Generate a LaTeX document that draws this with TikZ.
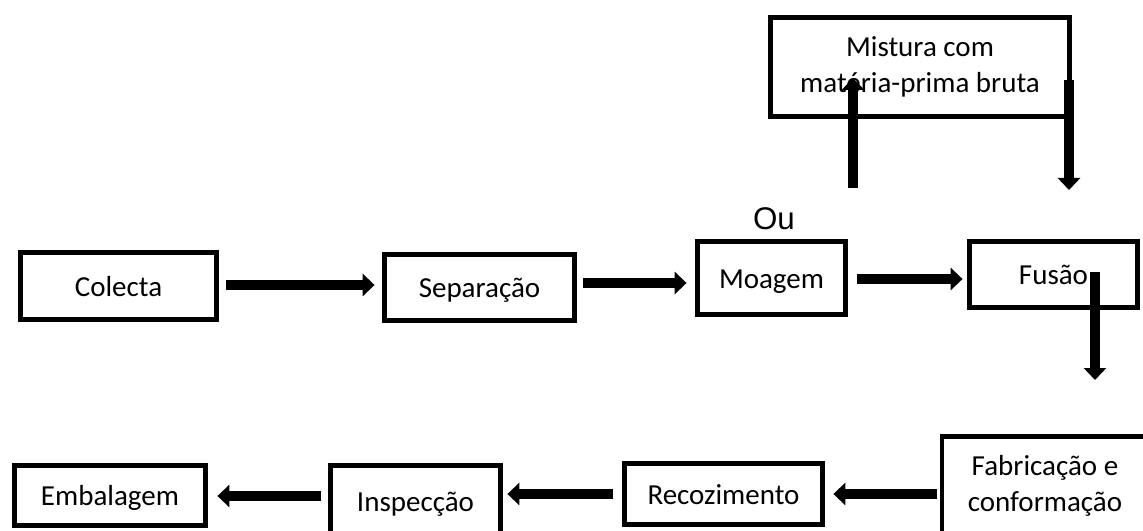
\documentclass[tikz,border=0pt]{standalone}
\usepackage{fontspec}
\setmainfont{Carlito}
\newfontfamily\arialfont{Liberation Sans}
\usetikzlibrary{arrows.meta,calc}
\newcommand\pxu{0.75pt}
\begin{document}
\begin{tikzpicture}[x=0.75pt,y=-0.75pt,
  box/.style={draw, line width=3.6pt, align=center, inner sep=0pt,
    font=\fontsize{21.75}{27}\selectfont},
  onebox/.style={box, text height=18.5pt, text depth=2.85pt},
  arr/.style={line width=7pt, -{Triangle[length=9pt,width=16.5pt]}}]
\useasboundingbox (0,0) rectangle (1143,531);
% top row
\node[onebox, minimum width=196.5*\pxu, minimum height=67.5*\pxu] (colecta) at (118.5,286) {Colecta};
\node[onebox, minimum width=190.5*\pxu, minimum height=66.5*\pxu] (sep) at (479.5,287.5) {Separação};
\node[onebox, minimum width=148.5*\pxu, minimum height=73.5*\pxu] (moagem) at (771.5,278) {Moagem};
\node[onebox, minimum width=168.5*\pxu, minimum height=66.5*\pxu] (fusao) at (1053.5,274.5) {Fusão};
\node[box, minimum width=299.5*\pxu, minimum height=99.5*\pxu] (mistura) at (920,67) {Mistura com\\matéria-prima bruta};
\node[anchor=base, font=\arialfont\fontsize{23.5}{28}\selectfont] (ou) at (774,229) {Ou};
% bottom row
\node[box, minimum width=206*\pxu, minimum height=99.5*\pxu] (fab) at (1045,486) {Fabricação e\\conformação};
\node[onebox, minimum width=198.5*\pxu, minimum height=61.5*\pxu] (recoz) at (723.5,494) {Recozimento};
\node[onebox, minimum width=170.5*\pxu, minimum height=72.5*\pxu] (insp) at (415.5,501.5) {Inspecção};
\node[onebox, minimum width=191.5*\pxu, minimum height=60.5*\pxu] (emb) at (110,495.5) {Embalagem};
% free ends
\coordinate (up0) at (853,188);
\coordinate (dn1) at (1069,190);
\coordinate (fd1) at (1095,380);
% connectors
\draw[arr] ($(colecta.east)+(7.25,-1)$) -- ($(colecta.east -| sep.west)+(-7.25,-1)$);
\draw[arr] ($(sep.east)+(6.25,-4.5)$) -- ($(sep.east -| moagem.west)+(-8.25,-4.5)$);
\draw[arr] ($(moagem.east)+(9.25,1)$) -- ($(moagem.east -| fusao.west)+(-4.25,1)$);
\draw[arr] (up0) -- ($(mistura.center)+(-67,11)$);
\draw[arr] ($(mistura.center)+(149,13)$) -- (dn1);
\draw[arr] ($(fusao.center)+(41.5,-2.5)$) -- (fd1);
\draw[arr] ($(fab.west |- recoz.east)+(-3,0)$) -- ($(recoz.east)+(8.25,0)$);
\draw[arr] ($(recoz.west)+(-9.25,0)$) -- ($(recoz.west -| insp.east)+(4.25,0)$);
\draw[arr] ($(insp.west |- emb.east)+(-7.25,0.5)$) -- ($(emb.east)+(9.25,0.5)$);
\end{tikzpicture}
\end{document}
